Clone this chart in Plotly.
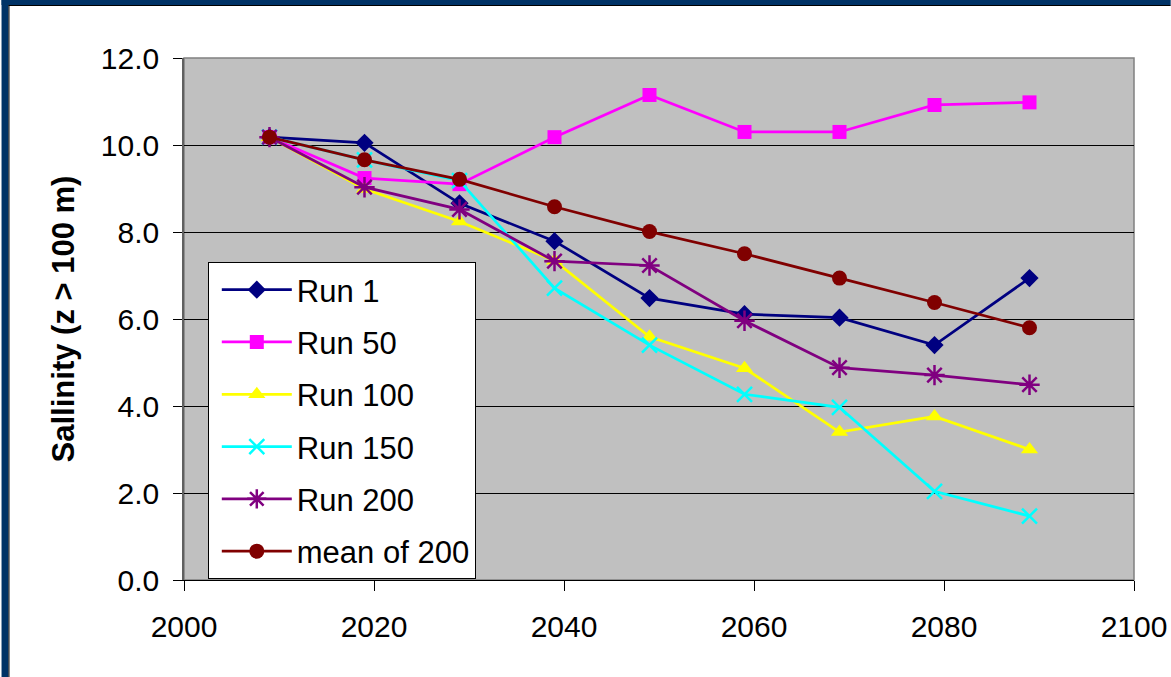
import plotly.graph_objects as go

years = [2009, 2019, 2029, 2039, 2049, 2059, 2069, 2079, 2089]
run_1 = [10.18, 10.05, 8.66, 7.79, 6.48, 6.11, 6.03, 5.40, 6.94]
run_50 = [10.18, 9.24, 9.10, 10.18, 11.15, 10.30, 10.30, 10.92, 10.98]
run_100 = [10.18, 8.99, 8.24, 7.34, 5.59, 4.87, 3.40, 3.76, 3.00]
run_150 = [10.18, 9.66, 9.18, 6.71, 5.40, 4.27, 3.97, 2.04, 1.47]
run_200 = [10.18, 9.03, 8.52, 7.33, 7.23, 5.96, 4.88, 4.71, 4.49]
mean_200 = [10.18, 9.66, 9.21, 8.58, 8.01, 7.50, 6.94, 6.38, 5.80]

series_names = ["Run 1", "Run 50", "Run 100", "Run 150", "Run 200", "mean of 200"]
series_values = [run_1, run_50, run_100, run_150, run_200, mean_200]
colors = ["#000080", "#FF00FF", "#FFFF00", "#00FFFF", "#800080", "#800000"]
symbols = ["diamond", "square", "triangle-up", "x-thin", "asterisk", "circle"]
sizes = [14, 14, 15, 15, 17, 15]

W, H = 1179, 677
L, R, T, B = 184, 37, 58, 97
PW, PH = W - L - R, H - T - B

def px(x):
    return (x - L) / PW

def py(y):
    return (H - B - y) / PH

fig = go.Figure()
for i, (name, vals) in enumerate(zip(series_names, series_values)):
    open_sym = symbols[i] in ("x-thin", "asterisk")
    fig.add_trace(go.Scatter(
        x=years, y=vals, name=name, mode="lines+markers",
        legendgroup=name,
        line=dict(color=colors[i], width=2.75),
        marker=dict(symbol=symbols[i], size=sizes[i], color=colors[i],
                    line=dict(color=colors[i], width=2.5 if open_sym else 0)),
    ))

FONT = "Liberation Sans, Arial, sans-serif"
blue = "#003366"
shapes = [
    dict(type="rect", xref="paper", yref="paper", x0=px(0), x1=px(7), y0=py(0), y1=py(H),
         fillcolor=blue, line=dict(width=0), layer="below"),
    dict(type="rect", xref="paper", yref="paper", x0=px(0), x1=px(W), y0=py(0), y1=py(5),
         fillcolor=blue, line=dict(width=0), layer="below"),
    dict(type="line", xref="paper", yref="paper", x0=px(7.5), x1=px(7.5), y0=py(5), y1=py(H),
         line=dict(color="black", width=1)),
    dict(type="line", xref="paper", yref="paper", x0=px(7), x1=px(W), y0=py(5.5), y1=py(5.5),
         line=dict(color="black", width=1)),
    dict(type="rect", xref="paper", yref="paper", x0=0, x1=1, y0=0, y1=1,
         line=dict(color="#808080", width=1.5), layer="below"),
]

fig.update_layout(
    width=W, height=H,
    margin=dict(l=L, r=R, t=T, b=B, pad=0),
    paper_bgcolor="white", plot_bgcolor="#C0C0C0",
    font=dict(family=FONT, size=30, color="black"),
    showlegend=True,
    legend=dict(
        x=px(208), y=py(262), xanchor="left", yanchor="top",
        bgcolor="white", bordercolor="black", borderwidth=1,
        font=dict(family=FONT, size=31, color="black"),
        traceorder="grouped", tracegroupgap=9, itemwidth=70, indentation=8,
    ),
    xaxis=dict(
        range=[2000, 2100], dtick=20, tick0=2000, showgrid=False, zeroline=False,
        showline=True, linecolor="black", linewidth=1,
        ticks="outside", ticklen=10, tickcolor="black", ticklabelstandoff=10,
        tickfont=dict(family=FONT, size=30),
    ),
    yaxis=dict(
        range=[0, 12], dtick=2, tick0=0, tickformat=".1f",
        showgrid=True, gridcolor="black", gridwidth=1, zeroline=False,
        showline=True, linecolor="#606060", linewidth=1.5,
        ticks="outside", ticklen=9, tickcolor="black", ticklabelstandoff=8,
        tickfont=dict(family=FONT, size=30),
        title=dict(text="<b>Sallinity (z > 100 m)</b>", font=dict(family=FONT, size=31), standoff=17),
    ),
    shapes=shapes,
)

fig.write_html(
    "out.html",
    config={"displayModeBar": False},
    post_script=(
        "document.documentElement.style.margin='0';"
        "document.documentElement.style.overflow='hidden';"
        "document.body.style.margin='0';document.body.style.padding='0';"
        "document.body.style.overflow='hidden';"
    ),
)
